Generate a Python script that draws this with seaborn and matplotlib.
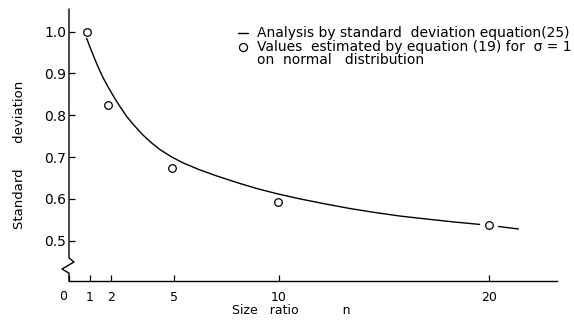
import numpy as np
import pandas as pd
import matplotlib
matplotlib.use("Agg")
import matplotlib.pyplot as plt
from matplotlib.lines import Line2D
import seaborn as sns

# Size ratio n and standard deviation estimated by equation (19), sigma = 1
est_n = [0.88, 1.88, 4.92, 9.95, 20.0]
est_sd = [1.0, 0.825, 0.673, 0.593, 0.538]

# Curve from the standard deviation equation (25); split where it passes the n = 20 marker
curve_n = [0.84, 1.0, 1.2, 1.4, 1.6, 1.86, 2.1, 2.4, 2.75, 3.1, 3.5, 3.86, 4.3,
           4.9, 5.44, 6.2, 7.03, 8.0, 9.0, 9.94, 11.0, 12.2, 13.38, 14.5, 15.76,
           17.0, 18.3, 19.55, 20.45, 21.4]
curve_sd = [0.984, 0.963, 0.938, 0.914, 0.892, 0.868, 0.847, 0.823, 0.797,
            0.776, 0.754, 0.737, 0.719, 0.700, 0.686, 0.670, 0.655, 0.639,
            0.624, 0.612, 0.600, 0.588, 0.577, 0.568, 0.559, 0.552, 0.545,
            0.539, 0.534, 0.528]
curve_seg = [0] * 28 + [1] * 2

x_ticks = [0, 1, 2, 5, 10, 20]
x_tick_labels = ["", "1", "2", "5", "10", "20"]
y_ticks = [0.5, 0.6, 0.7, 0.8, 0.9, 1.0]
y_tick_labels = ["0.5", "0.6", "0.7", "0.8", "0.9", "1.0"]

sns.set_theme(style="ticks")
plt.rcParams["font.family"] = ["DejaVu Sans"]
plt.rcParams["text.color"] = "black"

W, H = 574, 320
fig = plt.figure(figsize=(W / 100, H / 100), dpi=100)
ax = fig.add_axes([69 / W, 39 / H, 488 / W, 272 / H])

curve = pd.DataFrame({"n": curve_n, "sd": curve_sd, "seg": curve_seg})
est = pd.DataFrame({"n": est_n, "sd": est_sd})

sns.lineplot(data=curve, x="n", y="sd", units="seg", estimator=None, sort=False,
             color="black", linewidth=1.0, ax=ax)
sns.scatterplot(data=est, x="n", y="sd", marker="o", s=30, facecolor="white",
                edgecolor="black", linewidth=0.9, ax=ax, zorder=3)

ax.set_xlim(0, 23.24)
ax.set_ylim(0.4036, 1.0543)
ax.set_xticks(x_ticks)
ax.set_xticklabels(x_tick_labels)
ax.set_yticks(y_ticks)
ax.set_yticklabels(y_tick_labels)
ax.set_xlabel("")
ax.set_ylabel("")
ax.tick_params(axis="both", direction="in", length=4.3, width=0.9,
               colors="black")
ax.tick_params(axis="y", pad=2, labelsize=10)
ax.tick_params(axis="x", pad=7, labelsize=9)

sns.despine(ax=ax, top=True, right=True, left=True)
ax.spines["bottom"].set_linewidth(1.0)
ax.spines["bottom"].set_color("black")

# Vertical axis with a break symbol near the origin
ax.plot([0, 0, 0.0102, -0.0143, 0, 0],
        [1, 0.085, 0.070, 0.044, 0.029, 0],
        transform=ax.transAxes, clip_on=False, color="black", linewidth=1.0)

# Origin label sits a little left of the axis
ax.annotate("0", xy=(0, 0), xycoords=("data", "axes fraction"),
            xytext=(-6, -15), textcoords="offset pixels",
            ha="center", va="center", fontsize=9, color="black")

# Axis titles
fig.text(20 / W, 1 - 155 / H, "Standard      deviation", rotation=90,
         ha="center", va="center", fontsize=9.5, color="black")
fig.text(291 / W, 1 - 310 / H, "Size   ratio           n", ha="center",
         va="center", fontsize=9, color="black")

# Key
fig.add_artist(Line2D([238 / W, 248 / W], [1 - 33 / H, 1 - 33 / H],
                      color="black", linewidth=1.0))
fig.add_artist(Line2D([243 / W], [1 - 47 / H], marker="o", markersize=5.8,
                      markerfacecolor="white", markeredgecolor="black",
                      markeredgewidth=0.9, linestyle="none"))
fig.text(257 / W, 1 - 33 / H, "Analysis by standard  deviation equation(25)",
         ha="left", va="center", fontsize=10, color="black")
fig.text(257 / W, 1 - 47 / H, "Values  estimated by equation (19) for  σ = 1",
         ha="left", va="center", fontsize=10, color="black")
fig.text(257 / W, 1 - 60 / H, "on  normal   distribution",
         ha="left", va="center", fontsize=10, color="black")

fig.savefig("out.png", dpi=100, facecolor="white")
